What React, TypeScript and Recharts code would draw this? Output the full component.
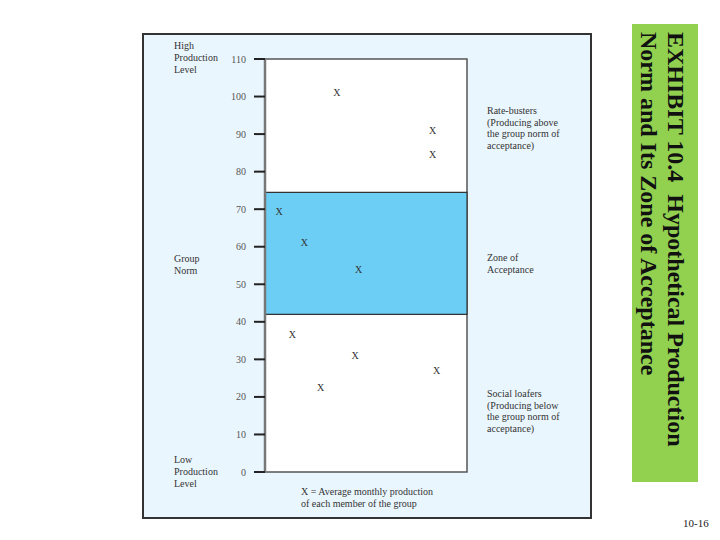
import React from "react";
import { ScatterChart, Scatter, XAxis, YAxis, ReferenceArea } from "recharts";

// ---- data ----
const yTicks = [0, 10, 20, 30, 40, 50, 60, 70, 80, 90, 100, 110];
const memberPosition = [35.6, 83, 83, 7, 19.5, 46.4, 13.5, 44.6, 85, 27.5];
const monthlyProduction = [101, 91, 84.5, 69.5, 61, 54, 36.5, 31, 27, 22.5];
const zoneLow = 42;
const zoneHigh = 74.5;
const leftLabels = [
  { lines: ["High", "Production", "Level"], top: 40 },
  { lines: ["Group", "Norm"], top: 253 },
  { lines: ["Low", "Production", "Level"], top: 454 },
];
const rightLabels = [
  { lines: ["Rate-busters", "(Producing above", "the group norm of", "acceptance)"], top: 105 },
  { lines: ["Zone of", "Acceptance"], top: 252 },
  { lines: ["Social loafers", "(Producing below", "the group norm of", "acceptance)"], top: 388 },
];
const captionLines = ["X = Average monthly production", "of each member of the group"];
const titleLines = ["EXHIBIT 10.4  Hypothetical Production", "Norm and Its Zone of Acceptance"];
const pageNumber = "10-16";

const points = memberPosition.map((x, i) => ({ x, y: monthlyProduction[i] }));

const serif = '"Liberation Serif", "DejaVu Serif", serif';

const XMark = (props: any) => {
  const { cx, cy } = props;
  return (
    <text x={cx} y={cy} textAnchor="middle" dominantBaseline="central" fontSize={10} fontFamily={serif} fill="#333">
      X
    </text>
  );
};

const Tick = (props: any) => {
  const { x, y, payload } = props;
  return (
    <text x={x} y={y} textAnchor="end" dominantBaseline="central" fontSize={10} fontFamily={serif} fill="#555">
      {payload.value}
    </text>
  );
};

const smallText: React.CSSProperties = {
  position: "absolute",
  fontFamily: serif,
  fontSize: 10,
  lineHeight: "11.5px",
  color: "#333",
  whiteSpace: "nowrap",
};

export default function App() {
  return (
    <div style={{ position: "relative", width: 720, height: 540, background: "#fff" }}>
      <style>{`body{margin:0}`}</style>
      <div
        style={{
          position: "absolute",
          left: 142,
          top: 33,
          width: 446,
          height: 482,
          background: "#EAF6FD",
          border: "2px solid #333",
        }}
      />
      <div style={{ position: "absolute", left: 0, top: 0 }}>
        <ScatterChart width={720} height={540} margin={{ top: 59, right: 253, bottom: 68, left: 205 }}>
          <XAxis type="number" dataKey="x" domain={[0, 100]} hide height={0} />
          <YAxis
            type="number"
            dataKey="y"
            domain={[0, 110]}
            ticks={yTicks}
            width={60}
            tickSize={11}
            tickMargin={8}
            tick={<Tick />}
            axisLine={{ stroke: "#777", strokeWidth: 2.5 }}
            tickLine={{ stroke: "#222", strokeWidth: 2 }}
            interval={0}
          />
          <ReferenceArea y1={0} y2={110} fill="#fff" fillOpacity={1} stroke="#555" strokeWidth={1.5} />
          <ReferenceArea y1={zoneLow} y2={zoneHigh} fill="#6CCEF5" fillOpacity={1} stroke="#333" strokeWidth={1.2} />
          <Scatter data={points} shape={<XMark />} isAnimationActive={false} />
        </ScatterChart>
      </div>
      {leftLabels.map((l, i) => (
        <div key={i} style={{ ...smallText, left: 174, top: l.top, lineHeight: "12px" }}>
          {l.lines.map((s, j) => (
            <div key={j}>{s}</div>
          ))}
        </div>
      ))}
      {rightLabels.map((l, i) => (
        <div key={i} style={{ ...smallText, left: 487, top: l.top }}>
          {l.lines.map((s, j) => (
            <div key={j}>{s}</div>
          ))}
        </div>
      ))}
      <div style={{ ...smallText, left: 301, top: 486 }}>
        {captionLines.map((s, j) => (
          <div key={j}>{s}</div>
        ))}
      </div>
      <div
        style={{
          position: "absolute",
          left: 632,
          top: 24,
          width: 66,
          height: 458,
          background: "#92D050",
          boxSizing: "border-box",
          padding: "8px 9px 0 0",
          writingMode: "vertical-rl",
          fontFamily: serif,
          fontWeight: "bold",
          fontSize: 24,
          lineHeight: "27px",
          color: "#111",
          whiteSpace: "pre",
        }}
      >
        {titleLines.join("\n")}
      </div>
      <div style={{ position: "absolute", left: 683, top: 517, fontFamily: serif, fontSize: 11, color: "#222" }}>
        {pageNumber}
      </div>
    </div>
  );
}
